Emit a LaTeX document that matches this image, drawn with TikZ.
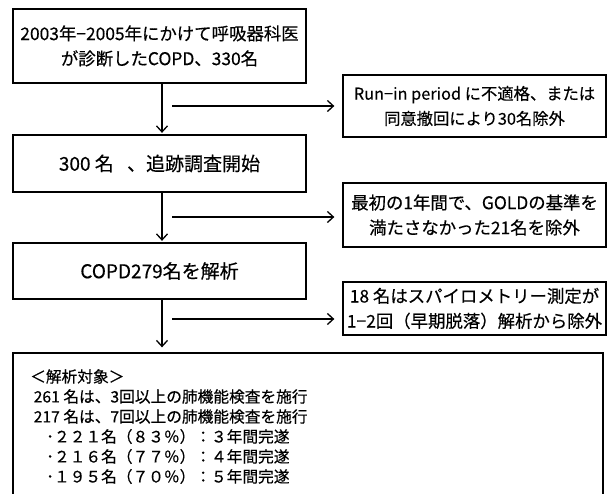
\documentclass[tikz,border=0pt]{standalone}
\usepackage{fontspec}
\setmainfont[FakeBold=0.4]{Noto Sans CJK JP}
\usetikzlibrary{arrows.meta}
\begin{document}
\begin{tikzpicture}[x=1pt,y=-1pt,
  box/.style={draw, line width=1.3pt, inner sep=0pt, align=center},
  fA/.style={font=\fontsize{17.4}{25}\selectfont},
  fB/.style={font=\fontsize{19}{25}\selectfont},
  arr/.style={line width=1.3pt, -{Straight Barb[length=6pt,width=11pt,line width=1.3pt]}}]
\useasboundingbox (0,0) rectangle (610,494);
\clip (0,0) rectangle (610,494);
% main column
\node[box, fA, minimum width=293pt, minimum height=74pt] (b1) at (159.5,46) {2003年−2005年にかけて呼吸器科医\\が診断したCOPD、330名};
\node[box, fB, minimum width=293pt, minimum height=57pt] (b2) at (159.5,163.5) {300 名\hspace{0.7em}、追跡調査開始};
\node[box, fB, minimum width=293pt, minimum height=56pt] (b3) at (159.5,271) {COPD279名を解析};
\node[box, minimum width=590pt, minimum height=145pt] (b4) at (308,425.5) {};
\node[anchor=north west, inner sep=0pt, align=left, font=\fontsize{15.7}{20}\selectfont] (t4) at (30,369)
  {＜解析対象＞\\
   \ 261 名は、3回以上の肺機能検査を施行\\
   \ 217 名は、7回以上の肺機能検査を施行\\
   \hspace*{16pt}･２２１名（８３％）：３年間完遂\\
   \hspace*{16pt}･２１６名（７７％）：４年間完遂\\
   \hspace*{16pt}･１９５名（７０％）：５年間完遂};
% side boxes
\node[box, font=\fontsize{16.3}{25}\selectfont, minimum width=263pt, minimum height=62pt] (rA) at (474.5,106) {Run−in period に不適格、または\\同意撤回により30名除外};
\node[box, fA, minimum width=263pt, minimum height=64pt] (rB) at (474.5,215) {最初の1年間で、GOLDの基準を\\満たさなかった21名を除外};
\node[box, fA, minimum width=263pt, minimum height=53pt] (rC) at (474.5,308.5) {18 名はスパイロメトリー測定が\\1−2回（早期脱落）解析から除外};
% vertical arrows
\draw[arr, shorten >=1.5pt] ([xshift=2.5pt]b1.south) -- ([xshift=2.5pt]b2.north);
\draw[arr, shorten >=1.5pt] ([xshift=2.5pt]b2.south) -- ([xshift=2.5pt]b3.north);
\draw[arr, shorten >=5pt] ([xshift=2.5pt]b3.south) -- ([xshift=2.5pt]b3.south |- b4.north);
% horizontal arrows
\coordinate (h1) at (172,106);
\coordinate (h2) at (172,217);
\coordinate (h3) at (172,319);
\draw[arr, shorten >=8pt] (h1) -- (h1 -| rA.west);
\draw[arr, shorten >=8pt] (h2) -- (h2 -| rB.west);
\draw[arr, shorten >=8pt] (h3) -- (h3 -| rC.west);
\end{tikzpicture}
\end{document}
